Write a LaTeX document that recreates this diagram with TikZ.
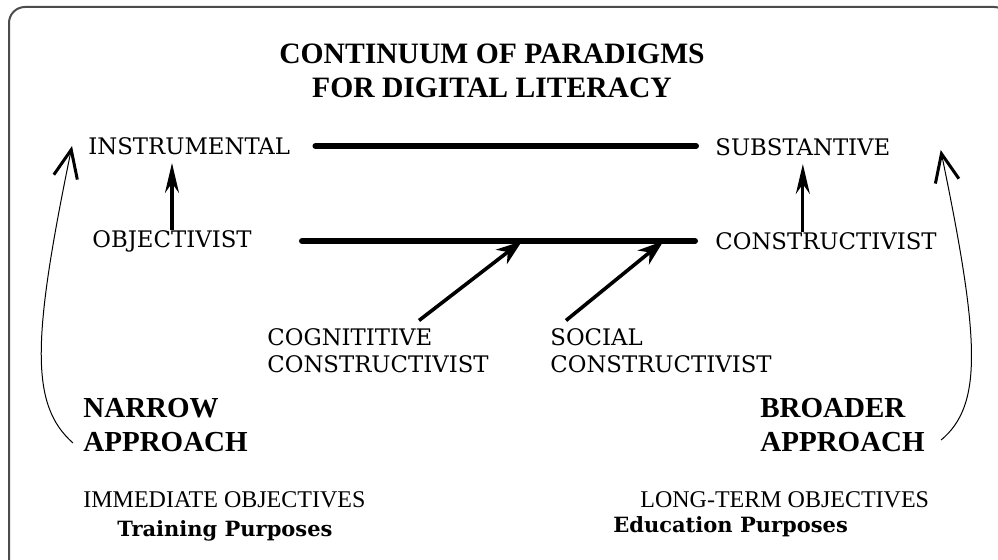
\documentclass[tikz,border=0pt]{standalone}
\usepackage{fontspec}
\setmainfont{DejaVu Serif}
\newfontfamily\titulofont{Liberation Serif}
\usetikzlibrary{arrows.meta}

\tikzset{
  etiqueta/.style={anchor=west, inner sep=0pt, align=left, font=\fontsize{11.4}{13.5}\selectfont},
  enfoque/.style={anchor=west, inner sep=0pt, align=left, font=\titulofont\bfseries\fontsize{14.5}{17}\selectfont},
  objetivo/.style={anchor=west, inner sep=0pt, font=\titulofont\fontsize{12}{14}\selectfont},
  proposito/.style={anchor=west, inner sep=0pt, font=\bfseries\fontsize{10.5}{12}\selectfont},
  barra/.style={line width=3pt, line cap=round},
  flecha/.style={line width=1.6pt, -{Stealth[length=15pt,width=7pt,inset=5pt]}},
  diagonal/.style={line width=1.8pt, -{Stealth[length=13pt,width=9pt,inset=4pt]}},
  curva/.style={line width=0.5pt, -{Straight Barb[length=14pt,width=12pt,line width=1.5pt]}},
}

\begin{document}
\begin{tikzpicture}[x=0.5pt, y=-0.5pt]
    \clip (0,0) rectangle (998,560);
    % Marco
    \draw[rounded corners=8pt, line width=1pt, gray!60!black] (9,7) rectangle (1010,575);

    % Titulo
    \node[font=\titulofont\bfseries\fontsize{14.8}{17}\selectfont, align=center] (titulo) at (492,71)
        {CONTINUUM OF PARADIGMS\\FOR DIGITAL LITERACY};

    % Paradigmas
    \node[etiqueta] (inst) at (88,146) {INSTRUMENTAL};
    \node[etiqueta] (sub) at (715,147) {SUBSTANTIVE};
    \node[etiqueta] (obj) at (92,241) {OBJECTIVIST};
    \node[etiqueta] (con) at (715,241) {CONSTRUCTIVIST};
    \node[etiqueta] (cog) at (267,351) {COGNITITIVE\\CONSTRUCTIVIST};
    \node[etiqueta] (soc) at (550,351) {SOCIAL\\CONSTRUCTIVIST};

    % Enfoques
    \node[enfoque] (nar) at (83,425) {NARROW\\APPROACH};
    \node[enfoque] (bro) at (760,425) {BROADER\\APPROACH};
    \node[objetivo] (inm) at (83,500) {IMMEDIATE OBJECTIVES};
    \node[proposito] (ent) at (117,531) {Training Purposes};
    \node[objetivo] (lar) at (640,500) {LONG-TERM OBJECTIVES};
    \node[proposito] (edu) at (613,527) {Education Purposes};

    % Continuos
    \draw[barra] ([xshift=12.5pt]inst.east) -- ([xshift=-9.5pt]inst.east -| sub.west);
    \draw[barra] ([xshift=25pt]obj.east) -- coordinate[pos=0.56] (cogfin) coordinate[pos=0.92] (socfin)
        ([xshift=-10pt]obj.east -| con.west);

    % Flechas
    \draw[flecha] (obj.north) -- ([yshift=-4pt]obj.north |- inst.south);
    \draw[flecha] (con.north -| sub.south) -- ([yshift=-4pt]sub.south);
    \draw[diagonal] ([shift={(76pt,4pt)}]cog.north west) -- (cogfin);
    \draw[diagonal] ([shift={(8pt,4pt)}]soc.north west) -- (socfin);
    \draw[curva] ([shift={(-5pt,-9pt)}]nar.west) .. controls (30,405) and (32,340) .. ([xshift=-8pt]inst.west);
    \draw[curva] ([shift={(8pt,-7.5pt)}]bro.east) .. controls (983,405) and (980,340) .. ([shift={(25pt,-1.5pt)}]sub.east);
\end{tikzpicture}
\end{document}
